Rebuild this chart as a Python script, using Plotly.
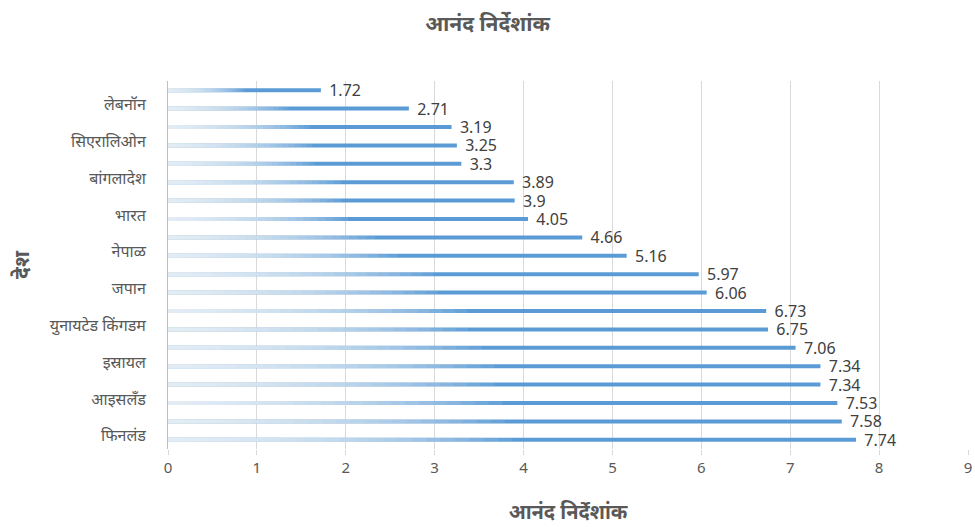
import plotly.graph_objects as go

# Data (bottom to top, as drawn)
countries = ["फिनलंड", "डेन्मार्क", "आइसलँड", "स्वीडन", "इस्रायल", "ऑस्ट्रेलिया",
             "युनायटेड किंगडम", "अमेरिका", "जपान", "चीन", "नेपाळ", "पाकिस्तान",
             "भारत", "श्रीलंका", "बांगलादेश", "काँगो", "सिएरालिओन", "लेसोथो",
             "लेबनॉन", "अफगाणिस्तान"]
values = [7.74, 7.58, 7.53, 7.34, 7.34, 7.06, 6.75, 6.73, 6.06, 5.97,
          5.16, 4.66, 4.05, 3.9, 3.89, 3.3, 3.25, 3.19, 2.71, 1.72]
shown_labels = countries[::2]
x_ticks = list(range(0, 10))

title_text = "आनंद निर्देशांक"
x_title = "आनंद निर्देशांक"
y_title = "देश"

BLUE = "#5B9BD5"
GRAY = "#595959"
FONT = "Noto Sans, DejaVu Sans, sans-serif"
BAR_W = 0.22

fig = go.Figure()
fig.add_trace(go.Bar(
    y=countries, x=values, orientation="h",
    marker=dict(color=BLUE, line=dict(width=0)),
    width=BAR_W,
    text=["\u00a0\u00a0" + str(v) for v in values],
    textposition="outside",
    constraintext="none",
    textfont=dict(size=16, color="#404040", family=FONT),
    cliponaxis=False,
    hoverinfo="x+y",
))

# white fades over the left part of each bar to imitate the gradient fill
n_steps = 24
fade_frac = 0.5
for k in range(1, n_steps + 1):
    fig.add_trace(go.Bar(
        y=countries, x=[v * fade_frac * k / n_steps for v in values],
        orientation="h", width=BAR_W,
        marker=dict(color="rgba(255,255,255,0.08)", line=dict(width=0)),
        hoverinfo="skip", showlegend=False,
    ))

fig.update_layout(
    barmode="overlay",
    width=975, height=527,
    margin=dict(l=168, r=7, t=81, b=78),
    paper_bgcolor="white", plot_bgcolor="white",
    showlegend=False,
    font=dict(family=FONT, color=GRAY),
    title=dict(text=title_text, x=0.5, xanchor="center", y=0.955, yanchor="middle",
               font=dict(size=21, color=GRAY, family=FONT, weight="bold")),
    xaxis=dict(
        range=[0, 9], tickvals=x_ticks, ticktext=[str(t) for t in x_ticks],
        automargin=False,
        showgrid=True, gridcolor="#D9D9D9", gridwidth=1,
        zeroline=False, showline=False,
        ticks="outside", ticklen=5, tickcolor="#D9D9D9",
        tickfont=dict(size=15, color=GRAY, family=FONT),
        title=dict(text=x_title, font=dict(size=20, color=GRAY, family=FONT, weight="bold"),
                   standoff=28),
    ),
    yaxis=dict(
        type="category", categoryorder="array", categoryarray=countries,
        tickvals=shown_labels, ticktext=shown_labels,
        automargin=False,
        showgrid=False, zeroline=False,
        showline=True, linecolor="#BFBFBF", linewidth=1,
        ticks="", tickfont=dict(size=16, color=GRAY, family=FONT),
        ticklabelstandoff=18, ticklabelshift=-4,
        title=dict(text=y_title, font=dict(size=21, color=GRAY, family=FONT, weight="bold"),
                   standoff=14),
    ),
)

fig.write_html("out.html", config={"displayModeBar": False},
               post_script="document.body.style.margin='0';")
